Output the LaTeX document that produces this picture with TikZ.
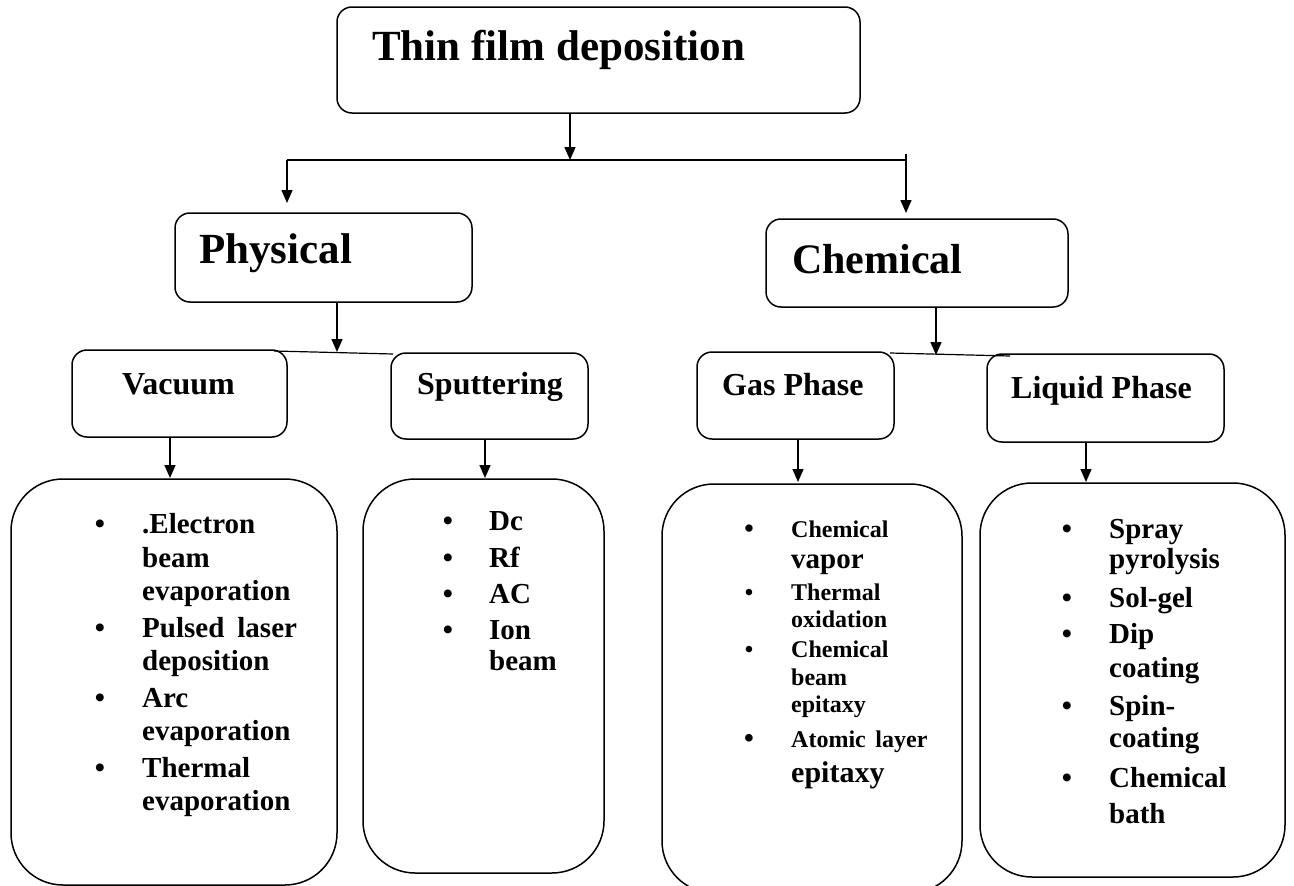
\documentclass[tikz,border=0pt]{standalone}
\usepackage{fontspec}
\setmainfont{Liberation Serif}
\usetikzlibrary{arrows.meta}
\newcommand\myfs[1]{\fontsize{#1}{#1}\selectfont}
\begin{document}
\begin{tikzpicture}[x=1pt,y=-1pt,
  box/.style={draw, line width=1.5pt, rounded corners=15pt, inner sep=0pt, outer sep=0pt},
  cbox/.style={draw, line width=1.5pt, rounded corners=52pt, inner sep=0pt, outer sep=0pt},
  conn/.style={line width=1.5pt},
  arr/.style={line width=1.5pt, -{Triangle[length=13pt,width=11pt]}},
  lbl/.style={anchor=base west, inner sep=0pt, font=\bfseries},
  bul/.style={anchor=base, inner sep=0pt, font=\bfseries},
  item/.style={lbl, font=\bfseries\myfs{29}},
  ibul/.style={bul, font=\bfseries\myfs{29}}]
\useasboundingbox (0,0) rectangle (1294,886);
% boxes
\node[box, minimum width=523pt, minimum height=106pt] (top) at (598.5,60) {};
\node[box, minimum width=297pt, minimum height=89pt] (phys) at (323.5,257.5) {};
\node[box, minimum width=302pt, minimum height=88pt] (chem) at (917,263) {};
\node[box, minimum width=215pt, minimum height=87pt] (vac) at (179.5,393.5) {};
\node[box, minimum width=197pt, minimum height=86pt] (sput) at (489.5,396) {};
\node[box, minimum width=197pt, minimum height=87pt] (gas) at (795.5,395.5) {};
\node[box, minimum width=237pt, minimum height=88pt] (liq) at (1105.5,398) {};
\node[cbox, minimum width=326pt, minimum height=406pt] (vacC) at (174,682) {};
\node[cbox, minimum width=241pt, minimum height=394pt] (sputC) at (483.5,676) {};
\node[cbox, minimum width=300pt, minimum height=409pt] (gasC) at (812,688.5) {};
\node[cbox, minimum width=305pt, minimum height=394pt] (liqC) at (1132.5,680) {};
% headings
\node[lbl, font=\bfseries\myfs{43}] (tTop) at (372,60) {Thin film deposition};
\node[lbl, font=\bfseries\myfs{43}] (tPhys) at (199,263) {Physical};
\node[lbl, font=\bfseries\myfs{42}] (tChem) at (792,273) {Chemical};
\node[lbl, font=\bfseries\myfs{32}] (tVac) at (122,394) {Vacuum};
\node[lbl, font=\bfseries\myfs{32}] (tSput) at (417,394) {Sputtering};
\node[lbl, font=\bfseries\myfs{32}] (tGas) at (722,395) {Gas Phase};
\node[lbl, font=\bfseries\myfs{32}] (tLiq) at (1011,398) {Liquid Phase};
% connectors
\coordinate (j0) at (570,160);
\coordinate (jl) at (287,160);
\coordinate (jr) at (906,160);
\coordinate (jrs) at (906,154);
\coordinate (jlt) at (287,203);
\coordinate (jrt) at (906,213);
\draw[arr] (top.south -| j0) -- (j0);
\draw[conn] (jl) -- (jr);
\draw[conn] (jrs) -- (jr);
\draw[arr] (jl) -- (jlt);
\draw[arr] (jr) -- (jrt);
\coordinate (pj) at (337,352);
\coordinate (pl) at (274,351);
\coordinate (pr) at (393,354);
\draw[conn, line width=1.2pt] (pl) -- (pr);
\draw[arr] (phys.south -| pj) -- (pj);
\coordinate (cj) at (936,355);
\coordinate (cl) at (890,353);
\coordinate (cr) at (1010,356);
\draw[conn, line width=1.2pt] (cl) -- (cr);
\draw[arr] (chem.south -| cj) -- (cj);
\coordinate (va) at (170,478);
\coordinate (sa) at (485,478);
\coordinate (ga) at (798,482);
\coordinate (la) at (1086,482);
\draw[arr] (vac.south -| va) -- (va);
\draw[arr] (sput.south -| sa) -- (sa);
\draw[arr] (gas.south -| ga) -- (ga);
\draw[arr] (liq.south -| la) -- (la);
% vacuum list
\node[ibul] (vb1) at (100,533) {•};
\node[item] (v1) at (142,533) {.Electron};
\node[item] (v2) at (142,567) {beam};
\node[item] (v3) at (142,600) {evaporation};
\node[ibul] (vb2) at (100,637) {•};
\node[item] (v4) at (142,637) {Pulsed\hspace{0.45em}laser};
\node[item] (v5) at (142,670) {deposition};
\node[ibul] (vb3) at (100,707) {•};
\node[item] (v6) at (142,707) {Arc};
\node[item] (v7) at (142,740) {evaporation};
\node[ibul] (vb4) at (100,777) {•};
\node[item] (v8) at (142,777) {Thermal};
\node[item] (v9) at (142,810) {evaporation};
% sputtering list
\node[ibul] (sb1) at (448,530) {•};
\node[item] (s1) at (489,530) {Dc};
\node[ibul] (sb2) at (448,567) {•};
\node[item] (s2) at (489,567) {Rf};
\node[ibul] (sb3) at (448,603) {•};
\node[item] (s3) at (489,603) {AC};
\node[ibul] (sb4) at (448,639) {•};
\node[item] (s4) at (489,639) {Ion};
\node[item] (s5) at (489,670) {beam};
% gas list
\node[bul, font=\bfseries\myfs{27}] (gb1) at (749,537) {•};
\node[lbl, font=\bfseries\myfs{24}] (g1) at (791,537) {Chemical};
\node[lbl, font=\bfseries\myfs{29}] (g2) at (791,568) {vapor};
\node[bul, font=\bfseries\myfs{24}] (gb2) at (749,600) {•};
\node[lbl, font=\bfseries\myfs{24}] (g3) at (791,600) {Thermal};
\node[lbl, font=\bfseries\myfs{24}] (g4) at (791,627) {oxidation};
\node[bul, font=\bfseries\myfs{24}] (gb3) at (749,657) {•};
\node[lbl, font=\bfseries\myfs{24}] (g5) at (791,657) {Chemical};
\node[lbl, font=\bfseries\myfs{24}] (g6) at (791,685) {beam};
\node[lbl, font=\bfseries\myfs{24}] (g7) at (791,712) {epitaxy};
\node[bul, font=\bfseries\myfs{28}] (gb4) at (749,747) {•};
\node[lbl, font=\bfseries\myfs{24}] (g8) at (791,747) {Atomic\hspace{0.4em}layer};
\node[lbl, font=\bfseries\myfs{30}] (g9) at (791,782) {epitaxy};
% liquid list
\node[ibul] (lb1) at (1067,538) {•};
\node[item] (l1) at (1109,538) {Spray};
\node[item] (l2) at (1109,568) {pyrolysis};
\node[ibul] (lb2) at (1067,607) {•};
\node[item] (l3) at (1109,607) {Sol-gel};
\node[ibul] (lb3) at (1067,643) {•};
\node[item] (l4) at (1109,643) {Dip};
\node[item] (l5) at (1109,677) {coating};
\node[ibul] (lb4) at (1067,715) {•};
\node[item] (l6) at (1109,715) {Spin-};
\node[item] (l7) at (1109,747) {coating};
\node[ibul] (lb5) at (1067,787) {•};
\node[item] (l8) at (1109,787) {Chemical};
\node[item] (l9) at (1109,823) {bath};
\end{tikzpicture}
\end{document}
